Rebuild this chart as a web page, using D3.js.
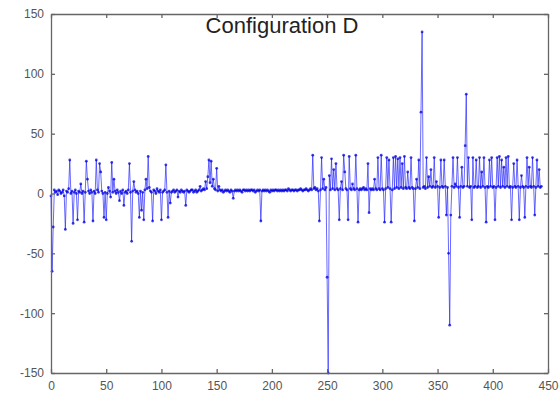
<!DOCTYPE html>
<html>
<head>
<meta charset="utf-8">
<script src="https://cdn.jsdelivr.net/npm/d3@7"></script>
<style>
  body { margin: 0; background: #fff; }
  svg text { font-family: "Liberation Sans", Arial, sans-serif; }
</style>
</head>
<body>
<div id="chart"></div>
<script>
const title = 'Configuration D'
const xTicks = [0, 50, 100, 150, 200, 250, 300, 350, 400, 450]
const yTicks = [-150, -100, -50, 0, 50, 100, 150]

// one value per sample
const values = [
  -2, -65, -28, 3, 1, 2, -1, 3, 2, 0,
  1, 3, -2, -30, 2, 1, 4, 28, 0, 2,
  -25, 1, 3, 0, -22, 2, 1, 8, 0, 2,
  -24, 1, 27, 12, 2, 0, 3, 1, -23, 2,
  0, 28, 3, 1, 25, 18, 2, 0, -20, 1,
  -22, 0, 5, 2, -3, 26, 1, 12, 2, 0,
  3, 1, -6, 2, 0, 3, -10, 1, 2, 0,
  3, 25, 1, -40, 2, 10, 3, 1, 2, 0,
  -20, 2, -14, 1, -22, 3, 12, 4, 31, 5,
  2, 1, -23, 3, 2, 0, 4, 2, 1, 3,
  -22, 1, 2, 3, 24, 1, -20, 2, -8, 1,
  2, 3, 1, 2, 3, -3, 2, 1, 3, 2,
  1, 2, -10, 3, 2, 1, 2, 3, 3, 1,
  2, 3, 1, 2, 3, 6, 2, 3, 4, 3,
  10, 4, 14, 28, 9, 27, 6, 12, 4, 3,
  21, 2, 6, 3, 2, 3, 1, 2, 3, 2,
  3, 2, 1, 3, 2, -4, 2, 3, 2, 3,
  2, 3, 2, 1, 3, 3, 2, 3, 2, 3,
  2, 3, 3, 2, 3, 1, 2, 3, 2, 3,
  -23, 2, 3, 2, 3, 2, 3, 2, 1, 3,
  2, 3, 2, 3, 3, 2, 3, 2, 3, 2,
  3, 2, 3, 3, 2, 4, 3, 2, 3, 3,
  2, 3, 3, 2, 3, 3, 4, 3, 2, 3,
  3, 4, 3, 2, 3, 4, 3, 32, 4, 5,
  3, 4, 2, -23, 3, 30, 4, 12, 3, 5,
  -70, -150, 15, 3, 29, 4, 20, 3, 25, 4,
  3, -22, 4, 10, 3, 32, 18, 4, 3, -22,
  31, 4, 3, 8, 4, 3, 32, 4, -24, 3,
  4, 3, 4, 5, 3, 4, 3, 25, -16, 4,
  3, 4, 3, 12, 4, 3, 30, 4, 3, 32,
  4, 3, -24, 4, 30, 5, 28, 4, -24, 3,
  30, 4, 31, 5, 29, 4, 30, 5, 25, 4,
  31, 5, 4, 18, 5, 4, 30, 5, 4, -23,
  4, 12, 5, 28, 4, 68, 135, 5, 6, 4,
  30, 5, 14, 6, 20, 5, 6, 30, 5, 10,
  6, -20, 5, 28, 6, 5, 28, 6, -18, 5,
  -50, -110, -18, 6, 30, 5, 8, 6, 30, 5,
  -20, 6, 22, 5, 6, 40, 83, 6, 30, 5,
  6, -22, 30, 5, 6, 28, 5, 6, 30, 5,
  18, 6, 30, 5, -24, 6, 5, 28, 6, 30,
  5, 6, -22, 5, 30, 6, 31, 5, 28, 6,
  22, 5, 30, 6, 31, 5, 6, -22, 5, 25,
  6, 5, 28, 6, -22, 5, 15, 6, 5, -20,
  6, 30, 5, 22, 6, 5, 30, 6, -18, 5,
  28, 6, 20, 5, 6
]

const W = 559
const H = 393
const margin = { top: 14, right: 11, bottom: 20, left: 51 }
const width = W - margin.left - margin.right
const height = H - margin.top - margin.bottom

const svg = d3.select('#chart')
  .append('svg')
  .attr('width', W)
  .attr('height', H)

const g = svg.append('g')
  .attr('transform', 'translate(' + margin.left + ',' + margin.top + ')')

const xScale = d3.scaleLinear().domain([0, 450]).range([0, width])
const yScale = d3.scaleLinear().domain([-150, 150]).range([height, 0])

// data line + markers
const line = d3.line()
  .x((d, i) => xScale(i))
  .y(d => yScale(d))

g.append('path')
  .datum(values)
  .attr('d', line)
  .attr('fill', 'none')
  .attr('stroke', '#2a2aff')
  .attr('stroke-opacity', 0.7)
  .attr('stroke-width', 1)

g.append('g')
  .selectAll('circle')
  .data(values)
  .join('circle')
  .attr('cx', (d, i) => xScale(i))
  .attr('cy', d => yScale(d))
  .attr('r', 1.4)
  .attr('fill', '#0000dd')
  .attr('fill-opacity', 0.75)

// axes, matlab style: ticks inside on all four sides
const axisColor = '#666'
const fmt = d => String(d) // plain hyphen minus like the original
const axBottom = g.append('g')
  .attr('transform', 'translate(0,' + height + ')')
  .call(d3.axisBottom(xScale).tickValues(xTicks).tickFormat(fmt).tickSizeInner(-4).tickSizeOuter(0).tickPadding(8))
const axLeft = g.append('g')
  .call(d3.axisLeft(yScale).tickValues(yTicks).tickFormat(fmt).tickSizeInner(-4).tickSizeOuter(0).tickPadding(7))
const axTop = g.append('g')
  .call(d3.axisTop(xScale).tickValues(xTicks).tickSizeInner(-4).tickSizeOuter(0).tickFormat(''))
const axRight = g.append('g')
  .attr('transform', 'translate(' + width + ',0)')
  .call(d3.axisRight(yScale).tickValues(yTicks).tickSizeInner(-4).tickSizeOuter(0).tickFormat(''))

;[axBottom, axLeft, axTop, axRight].forEach(a => {
  a.selectAll('path, line').attr('stroke', axisColor).attr('stroke-width', 1.3)
  a.selectAll('text').attr('fill', '#555').style('font-size', '12px')
})

svg.append('text')
  .attr('x', 282)
  .attr('y', 33)
  .attr('text-anchor', 'middle')
  .attr('fill', '#222')
  .style('font-size', '22px')
  .text(title)
</script>
</body>
</html>
